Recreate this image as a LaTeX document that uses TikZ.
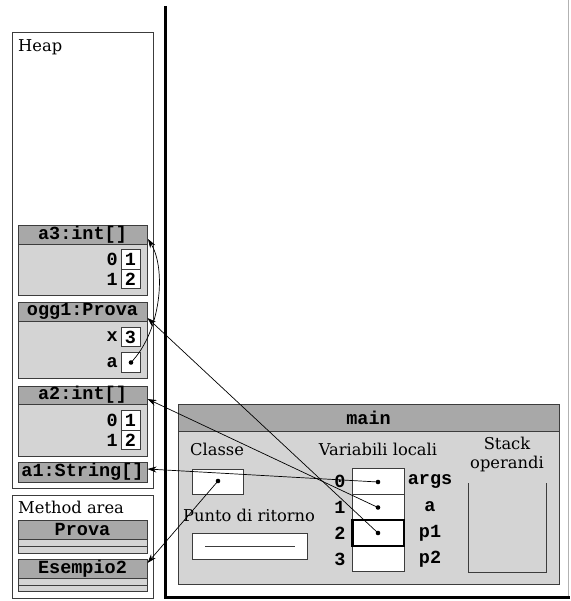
\documentclass[tikz,border=0pt]{standalone}
\usepackage{fontspec}
\newfontfamily\mono{Liberation Mono}
\newfontfamily\serifface{DejaVu Serif}
\usetikzlibrary{arrows.meta}
\definecolor{hdrgray}{RGB}{168,168,168}
\definecolor{bodygray}{RGB}{212,212,212}
\definecolor{edge}{RGB}{60,60,60}
\begin{document}
\begin{tikzpicture}[x=1pt,y=-1pt,
  thin box/.style={draw=edge,line width=0.8pt},
  hdr/.style={draw=edge,fill=hdrgray,line width=0.8pt,inner sep=0pt,
    minimum width=129pt,minimum height=19pt,font=\mono\bfseries\fontsize{18.5}{18.5}\selectfont},
  body/.style={draw=edge,fill=bodygray,line width=0.8pt},
  valbox/.style={draw=edge,fill=white,line width=0.8pt,inner sep=0pt,
    minimum width=19pt,minimum height=19.5pt,font=\mono\bfseries\fontsize{18.5}{18.5}\selectfont},
  lbl/.style={inner sep=0pt,font=\mono\bfseries\fontsize{18.5}{18.5}\selectfont},
  serif/.style={inner sep=0pt,font=\serifface\fontsize{16.3}{18}\selectfont},
  ref/.style={line width=0.7pt,-{Stealth[length=9pt,width=6pt]}},
  dot/.style={fill=black}]
\useasboundingbox (0,0) rectangle (570,601);
% outer frame of stack area
\draw[gray!60,line width=0.8pt] (568.5,0) -- (568.5,597);
\draw[line width=3pt] (165.5,6) -- (165.5,597) -- (570,597);
% Heap
\draw[thin box] (12,32) rectangle (153,488);
\node[serif,anchor=base west] (heaplbl) at (18,52) {Heap};
% a3
\draw[body] (18,244) rectangle (147,295);
\node[hdr] (a3h) at (82.5,234.5) {a3:int[]};
\node[lbl,anchor=east] (a3l0) at (118,259.5) {0};
\node[valbox] (a3v0) at (130.5,259.5) {1};
\node[lbl,anchor=east] (a3l1) at (118,279) {1};
\node[valbox] (a3v1) at (130.5,279) {2};
% ogg1
\draw[body] (18,321) rectangle (147,378);
\node[hdr] (oggh) at (82.5,311.5) {ogg1:Prova};
\node[lbl,anchor=east] (oggxl) at (118,337) {x};
\node[valbox] (oggx) at (130.5,337) {3};
\node[lbl,anchor=east] (oggal) at (118,362.5) {a};
\node[valbox] (ogga) at (130.5,362.5) {};
% a2
\draw[body] (18,404) rectangle (147,456);
\node[hdr,minimum height=18pt] (a2h) at (82.5,395) {a2:int[]};
\node[lbl,anchor=east] (a2l0) at (118,420.5) {0};
\node[valbox] (a2v0) at (130.5,420.5) {1};
\node[lbl,anchor=east] (a2l1) at (118,440) {1};
\node[valbox] (a2v1) at (130.5,440) {2};
% a1
\node[hdr,minimum height=20pt] (a1h) at (82.5,472) {a1:String[]};
% Method area
\draw[thin box] (12,495) rectangle (153,598);
\node[serif,anchor=base west] (malbl) at (18,513) {Method area};
\draw[body] (18,539) rectangle (147,546);
\draw[body] (18,546) rectangle (147,553);
\node[hdr] (provah) at (82.5,529.5) {Prova};
\draw[body] (18,578) rectangle (147,585);
\draw[body] (18,585) rectangle (147,591);
\node[hdr] (esh) at (82.5,568.5) {Esempio2};
% main frame
\draw[body] (178,404) rectangle (559,584);
\node[hdr,minimum width=381pt,minimum height=27pt] (mainh) at (368.5,417.5) {main};
\node[serif,anchor=base west] (classelbl) at (190,455) {Classe};
\draw[thin box,fill=white] (192,469) rectangle (243,494);
\node[serif,anchor=base west] (puntolbl) at (183,521) {Punto di ritorno};
\draw[thin box,fill=white] (192,533) rectangle (307,559);
\draw[line width=0.8pt,edge] (205,546) -- (295,546);
\node[serif,anchor=base] (varlbl) at (378,455) {Variabili locali};
\node[serif,anchor=base] (stacklbl) at (507,449) {Stack};
\node[serif,anchor=base] (oplbl) at (507,468) {operandi};
\draw[thin box] (468,483) -- (468,572) -- (546,572) -- (546,483);
% local variables
\foreach \i/\y/\n in {0/481.5/args,1/507/a,2/533/p1,3/559/p2}{
  \draw[thin box,fill=white] (352,\y-12.75) rectangle (404,\y+12.75);
  \node[lbl] (vi\i) at (340,\y) {\i};
  \node[lbl] (vn\i) at (430,\y) {\n};
}
\draw[line width=2.6pt] (352.5,520) rectangle (404,546);
% dots
\coordinate (dargs) at (378,482);
\coordinate (da) at (378,507.5);
\coordinate (dp1) at (378,533);
\coordinate (dcl) at (218,481);
\coordinate (doa) at (131,362.5);
\foreach \c in {dargs,da,dp1,dcl,doa} \fill[dot] (\c) circle (2.3pt);
% targets
\coordinate (ta1) at (147.5,469);
\coordinate (ta2) at (147.5,399);
\coordinate (togg) at (147.5,318);
\coordinate (tes) at (147.5,563);
\coordinate (ta3) at (148,239);
% references
\draw[ref] (dargs) -- (ta1);
\draw[ref] (da) -- (ta2);
\draw[ref] (dp1) -- (togg);
\draw[ref] (dcl) -- (tes);
\draw[ref] (doa) .. controls (162,330) and (166,268) .. (ta3);
\end{tikzpicture}
\end{document}
